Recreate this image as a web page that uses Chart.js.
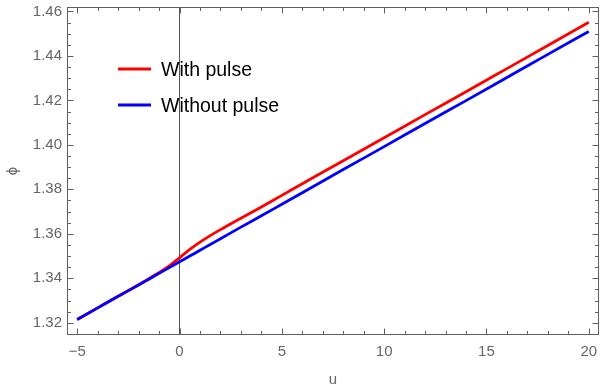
<!DOCTYPE html>
<html>
<head>
<meta charset="utf-8">
<script src="https://cdn.jsdelivr.net/npm/chart.js@4.4.1/dist/chart.umd.min.js"></script>
<style>
  html, body { margin: 0; padding: 0; background: #fff; }
  #wrap { width: 600px; height: 387px; position: relative; }
</style>
</head>
<body>
<div id="wrap"><canvas id="plot"></canvas></div>
<script>
// values
const uValues     = [-5, -4, -3, -2, -1.5, -1, -0.5, 0, 0.5, 1, 1.5, 2, 3, 4, 5, 6, 8, 10, 12, 14, 16, 18, 20];
const withPulse   = [1.3215, 1.3267, 1.3319, 1.3371, 1.3398, 1.3426, 1.3456, 1.3492, 1.3530, 1.3563, 1.3592, 1.3619,
                     1.3670, 1.3721, 1.3773, 1.3825, 1.3929, 1.4032, 1.4136, 1.4239, 1.4343, 1.4447, 1.4551];
const withoutPulse= [1.3215, 1.3267, 1.3319, 1.3370, 1.3396, 1.3422, 1.3448, 1.3474, 1.3500, 1.3526, 1.3552, 1.3578,
                     1.3630, 1.3681, 1.3733, 1.3785, 1.3889, 1.3992, 1.4096, 1.4199, 1.4303, 1.4407, 1.4510];
const seriesNames = ['With pulse', 'Without pulse'];
const xTickValues = [-5, 0, 5, 10, 15, 20];
const yTickValues = [1.32, 1.34, 1.36, 1.38, 1.40, 1.42, 1.44, 1.46];

const FONT = "'Liberation Sans', Arial, sans-serif";
const GREY = '#666666';
const FRAME = '#606060';

const toPoints = ys => uValues.map((u, i) => ({x: u, y: ys[i]}));

// Mathematica-like frame: box with inward major/minor ticks on all four sides
const framePlugin = {
  id: 'frame',
  afterDatasetsDraw(chart){
    const {ctx, chartArea: a, scales} = chart;
    const xs = scales.x, ys = scales.y;
    ctx.save();
    ctx.strokeStyle = FRAME;
    ctx.lineWidth = 1;
    const L = Math.round(a.left) + 0.5, R = Math.round(a.right) - 0.5;
    const T = Math.round(a.top) + 0.5, B = Math.round(a.bottom) - 0.5;
    ctx.strokeRect(L, T, R - L, B - T);
    ctx.beginPath();
    const xMinor = [];
    for(let v = -5; v <= 20; v += 1) xMinor.push(v);
    for(const v of xMinor){
      const len = xTickValues.includes(v) ? 6 : 3.5;
      const px = Math.round(xs.getPixelForValue(v)) + 0.5;
      ctx.moveTo(px, B); ctx.lineTo(px, B - len);
      ctx.moveTo(px, T); ctx.lineTo(px, T + len);
    }
    for(let k = 0; k <= 29; k++){
      const v = 1.315 + k * 0.005;
      const major = yTickValues.some(t => Math.abs(t - v) < 1e-6);
      const len = major ? 6 : 3.5;
      const py = Math.round(ys.getPixelForValue(v)) + 0.5;
      ctx.moveTo(L, py); ctx.lineTo(L + len, py);
      ctx.moveTo(R, py); ctx.lineTo(R - len, py);
    }
    ctx.stroke();
    ctx.restore();
  }
};

// legend drawn inside the plot, upper left
const legendPlugin = {
  id: 'insideLegend',
  afterDraw(chart){
    const {ctx} = chart;
    const byLabel = {};
    chart.data.datasets.forEach(d => byLabel[d.label] = d);
    ctx.save();
    seriesNames.forEach((name, i) => {
      const ds = byLabel[name];
      const y = 69 + i * 36;
      ctx.strokeStyle = ds.borderColor;
      ctx.lineWidth = 3;
      ctx.beginPath(); ctx.moveTo(118, y); ctx.lineTo(151, y); ctx.stroke();
      ctx.fillStyle = '#000';
      ctx.font = `19.5px ${FONT}`;
      ctx.textBaseline = 'alphabetic';
      ctx.fillText(name, 161, y + 7);
    });
    ctx.restore();
  }
};

new Chart(document.getElementById('plot'), {
  type: 'line',
  data: {
    datasets: [
      { label: seriesNames[0], data: toPoints(withPulse), borderColor: '#ff0000', borderWidth: 2.8,
        pointRadius: 0, cubicInterpolationMode: 'monotone', order: 1 },
      { label: seriesNames[1], data: toPoints(withoutPulse), borderColor: '#0000ff', borderWidth: 2.8,
        pointRadius: 0, cubicInterpolationMode: 'monotone', order: 0 }
    ]
  },
  options: {
    responsive: true,
    maintainAspectRatio: false,
    animation: false,
    layout: { padding: { top: 7, right: 1, left: 0, bottom: 0 } },
    plugins: { legend: { display: false }, tooltip: { enabled: false } },
    scales: {
      x: {
        type: 'linear', min: -5.5, max: 20.5,
        afterBuildTicks: s => { s.ticks = xTickValues.map(v => ({value: v})); },
        afterFit: s => { s.height = 52; s.paddingLeft = 0; s.paddingRight = 0; },
        border: { display: false },
        grid: { drawTicks: false, color: c => (c.tick && c.tick.value === 0) ? '#555' : 'rgba(0,0,0,0)', lineWidth: 1 },
        ticks: { autoSkip: false, maxRotation: 0, padding: 8, color: GREY, font: { family: FONT, size: 15 },
                 callback: v => v < 0 ? '\u2212' + Math.abs(v) : String(v) },
        title: { display: true, text: 'u', color: GREY, font: { family: FONT, size: 15 }, padding: { top: 0, bottom: -2 } }
      },
      y: {
        type: 'linear', min: 1.3145, max: 1.4620,
        afterBuildTicks: s => { s.ticks = yTickValues.map(v => ({value: v})); },
        afterFit: s => { s.width = 67; s.paddingTop = 0; s.paddingBottom = 0; },
        border: { display: false },
        grid: { display: false, drawTicks: false },
        ticks: { autoSkip: false, padding: 5, color: GREY, font: { family: FONT, size: 15 },
                 callback: v => v.toFixed(2) },
        title: { display: true, text: '\u03D5', color: GREY, font: { family: FONT, size: 15 }, padding: { top: 4, bottom: 0 } }
      }
    }
  },
  plugins: [framePlugin, legendPlugin]
});
</script>
</body>
</html>
